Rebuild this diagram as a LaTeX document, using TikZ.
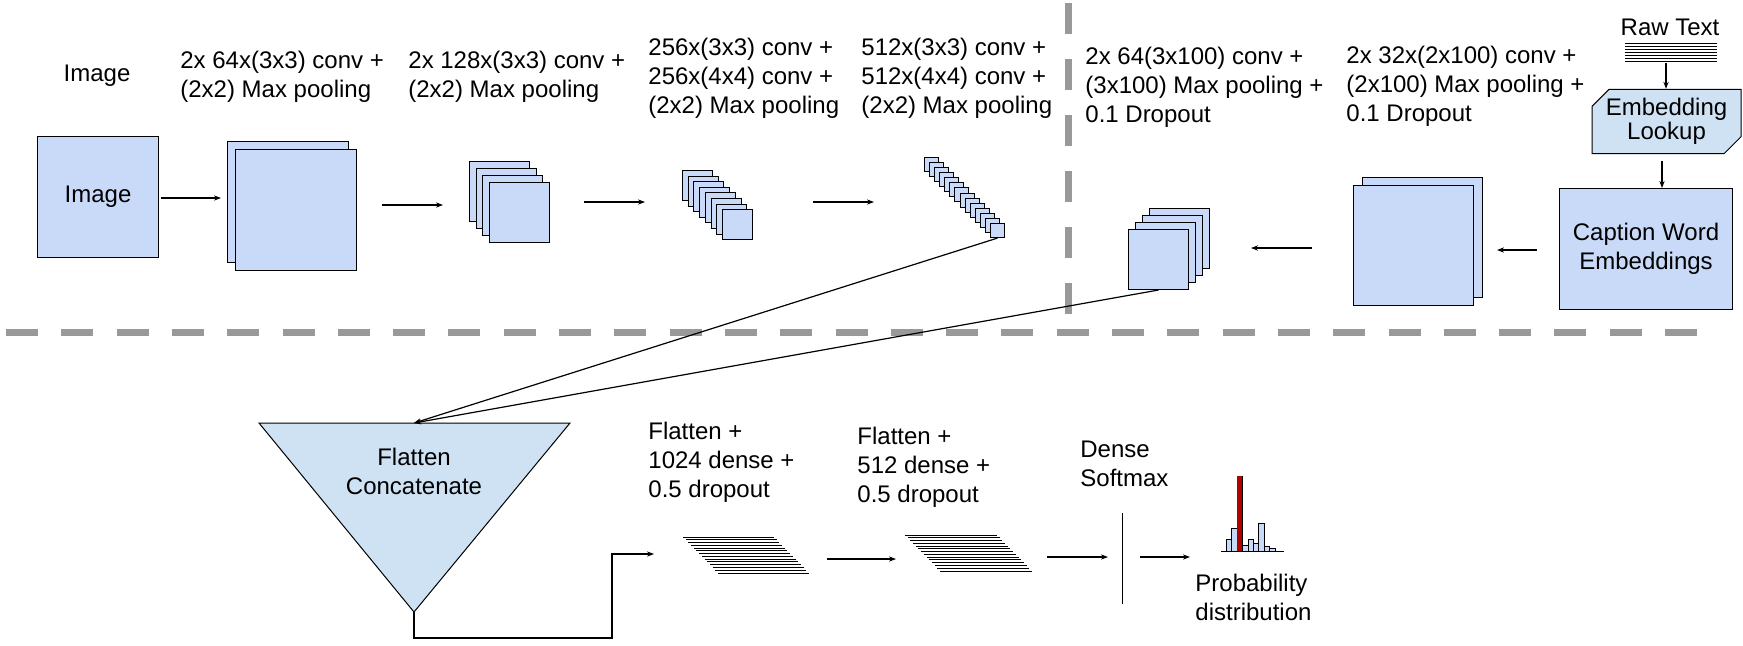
\documentclass[tikz,border=0pt]{standalone}
\usepackage{fontspec}
\setmainfont{Liberation Sans}
\usetikzlibrary{arrows.meta,shapes.misc}
\definecolor{mapblue}{HTML}{C9DAF8}
\definecolor{lookblue}{HTML}{CFE2F3}
\definecolor{sepgray}{HTML}{999999}
\definecolor{peakred}{HTML}{B00000}
\begin{document}
\begin{tikzpicture}[
    x=0.5pt,
    y=-0.5pt,
    every node/.style={
      inner sep=0pt,
      font=\fontsize{12pt}{14.5pt}\selectfont
    },
    fmap/.style={
      draw,
      fill=mapblue,
      line width=0.5pt,
      anchor=north west
    },
    lbl/.style={
      align=left,
      anchor=west
    },
    arr/.style={
      -{Stealth[length=3.5pt,width=2.6pt]},
      line width=0.6pt
    },
    sep/.style={
      draw=sepgray,
      line width=3.5pt,
      dash pattern=on 16pt off 11.65pt
    }
  ]
    \useasboundingbox (0,0) rectangle (1743,645);

    \draw[sep] (6,332) -- (1700,332);
    \draw[sep, dash pattern=on 15.5pt off 12.5pt] (1068,3) -- (1068,318);

    \node (imglbl) at (97,76) {Image};
    \node[fmap, minimum size=60.5pt] (img) at (37,136) {Image};

    \node[fmap, minimum size=60.5pt] (c1a) at (227,141) {};
    \node[fmap, minimum size=60.5pt] (c1b) at (235,149) {};
    \node[lbl] (c1lbl) at (180,77) {2x 64x(3x3) conv +\\(2x2) Max pooling};

    \foreach \i in {0,...,3}
      \node[fmap, minimum size=30pt] (c2-\i) at ({469+6.7*\i},{161+7*\i}) {};
    \node[lbl] (c2lbl) at (408,77) {2x 128x(3x3) conv +\\(2x2) Max pooling};

    \foreach \i in {0,...,7}
      \node[fmap, minimum size=15pt] (c3-\i) at ({682+5.7*\i},{170+5.6*\i}) {};
    \node[lbl] (c3lbl) at (648,78) {256x(3x3) conv +\\256x(4x4) conv +\\(2x2) Max pooling};

    \foreach \i in {0,...,13}
      \node[fmap, minimum size=7pt] (c4-\i) at ({924+5.08*\i},{157+5.08*\i}) {};
    \node[lbl] (c4lbl) at (861,78) {512x(3x3) conv +\\512x(4x4) conv +\\(2x2) Max pooling};

    \node (rawlbl) at (1670,27) {Raw Text};
    \foreach \k in {0,...,6}
      \draw[line width=0.5pt] (1625,{43+3.1*\k}) -- (1717,{43+3.1*\k});
    \coordinate (rawend) at (1666,63);
    \node[draw, fill=lookblue, line width=0.5pt, chamfered rectangle,
      chamfered rectangle corners={north west,south east},
      chamfered rectangle xsep=4pt, chamfered rectangle ysep=4.5pt,
      minimum width=74.5pt, minimum height=27.5pt, align=center,
      font=\fontsize{12pt}{12pt}\selectfont] (look) at (1666.5,121.5) {Embedding\\Lookup};
    \node[fmap, minimum width=86.5pt, minimum height=60.5pt, align=center] (cap) at (1559,188) {Caption Word\\Embeddings};

    \node[fmap, minimum size=60pt] (t2a) at (1362,177) {};
    \node[fmap, minimum size=60pt] (t2b) at (1353,185) {};
    \node[lbl] (t2lbl) at (1346,86) {2x 32x(2x100) conv +\\(2x100) Max pooling +\\0.1 Dropout};

    \foreach \i in {0,...,3}
      \node[fmap, minimum size=30pt] (t1-\i) at ({1149-7*\i},{208+7*\i}) {};
    \node[lbl] (t1lbl) at (1085,87) {2x 64(3x100) conv +\\(3x100) Max pooling +\\0.1 Dropout};

    \coordinate (a1s) at (161,198);
    \coordinate (a1e) at (221,198);
    \coordinate (a2s) at (382,205);
    \coordinate (a2e) at (443,205);
    \coordinate (a3s) at (584,202);
    \coordinate (a3e) at (645,202);
    \coordinate (a4s) at (813,202);
    \coordinate (a4e) at (874,202);
    \coordinate (a5s) at (1312,248);
    \coordinate (a5e) at (1251,248);
    \coordinate (a6s) at (1537,250);
    \coordinate (a6e) at (1497,250);
    \coordinate (a7s) at (1662,161);

    \draw[arr] (a1s) -- (a1e);
    \draw[arr] (a2s) -- (a2e);
    \draw[arr] (a3s) -- (a3e);
    \draw[arr] (a4s) -- (a4e);
    \draw[arr] (a5s) -- (a5e);
    \draw[arr] (a6s) -- (a6e);
    \draw[arr] (a7s) -- (a7s |- cap.north);
    \draw[arr] (rawend) -- (rawend |- look.north);

    \draw[line width=0.5pt, fill=lookblue] (259,423) -- (570,423) -- (414,612) -- cycle;
    \coordinate (cattop) at (414,423);
    \coordinate (catapex) at (414,612);
    \node[align=center] (cat) at (414,471) {Flatten\\Concatenate};

    \draw[arr] (c4-13.south) -- (cattop);
    \draw[arr] (t1-3.south) -- (cattop);

    \coordinate (d1in) at (654,554);
    \draw[arr] (catapex) -- ++(0,26) -| ([xshift=-21pt]d1in) -- (d1in);

    \node[lbl] (d1lbl) at (648,462) {Flatten +\\1024 dense +\\0.5 dropout};
    \foreach \k in {0,...,13}
      \draw[line width=0.5pt] ({683+2.69*\k},{537+2.77*\k}) -- ++(91,0);

    \node[lbl] (d2lbl) at (857,467) {Flatten +\\512 dense +\\0.5 dropout};
    \foreach \k in {0,...,13}
      \draw[line width=0.5pt] ({905+2.69*\k},{535+2.77*\k}) -- ++(92,0);

    \node[lbl] (smlbl) at (1080,464) {Dense\\Softmax};
    \draw[line width=0.5pt] (1122,513) -- (1122,604);

    \coordinate (a8s) at (827,559);
    \coordinate (a8e) at (896,559);
    \coordinate (a9s) at (1047,557);
    \coordinate (a9e) at (1108,557);
    \coordinate (a10s) at (1140,557);
    \coordinate (a10e) at (1190,557);
    \draw[arr] (a8s) -- (a8e);
    \draw[arr] (a9s) -- (a9e);
    \draw[arr] (a10s) -- (a10e);

    \foreach \h [count=\i] in {12,23,75,6,12,8,28,5,3}
      \draw[line width=0.3pt, fill=mapblue] ({1226+5.45*(\i-1)},551) rectangle ++(5.45,-\h);
    \fill[peakred] ({1226+5.45*2},551) rectangle ++(5.45,-75);
    \draw[line width=0.5pt] (1221,551) -- (1284,551);
    \node[lbl] (problbl) at (1195,597) {Probability\\distribution};
  \end{tikzpicture}
\end{document}
